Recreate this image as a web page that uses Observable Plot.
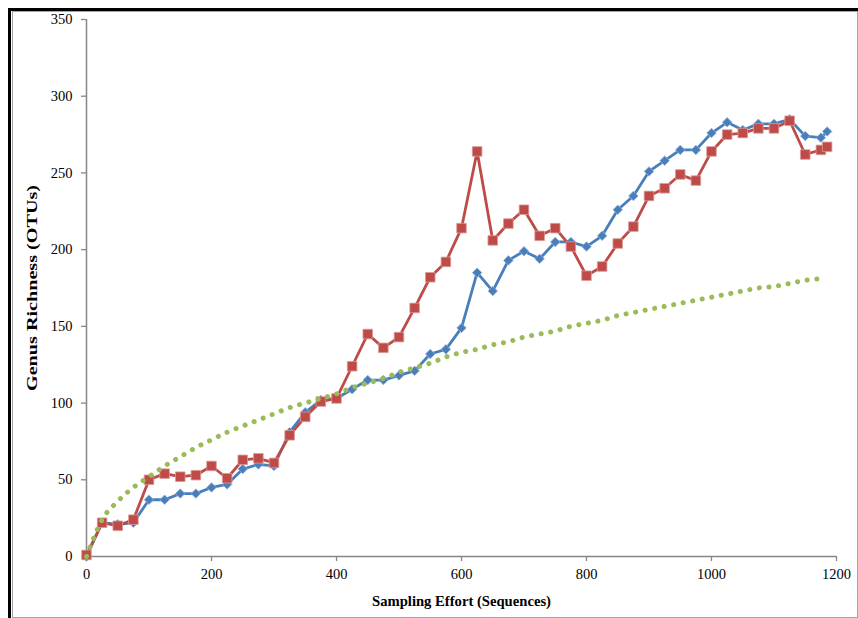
<!DOCTYPE html>
<html>
<head>
<meta charset="utf-8">
<script src="https://cdn.jsdelivr.net/npm/d3@7"></script>
<script src="https://cdn.jsdelivr.net/npm/@observablehq/plot@0.6"></script>
<style>
  html, body { margin: 0; padding: 0; background: #fff; overflow: hidden; }
  #wrap { position: relative; width: 858px; height: 618px; }
  #wrap svg { display: block; }
  .b { position: absolute; pointer-events: none; }
</style>
</head>
<body>
<div id="wrap">
  <div class="b" style="left:8px;top:8px;width:850px;height:3px;background:#000"></div>
  <div class="b" style="left:8px;top:8px;width:3px;height:610px;background:#000"></div>
  <div class="b" style="left:12px;top:11px;border:1px solid #a6a6a6;box-sizing:border-box;width:846px;height:607px"></div>
</div>
<script>
// Sampling effort (sequences) for the two observed series
const effort = [0,25,50,75,100,125,150,175,200,225,250,275,300,325,350,375,400,425,450,475,500,525,550,575,600,625,650,675,700,725,750,775,800,825,850,875,900,925,950,975,1000,1025,1050,1075,1100,1125,1150,1175,1185];
// Blue series (diamonds)
const blueValues = [0,22,21,22,37,37,41,41,45,47,57,60,59,81,94,102,103,109,115,115,118,121,132,135,149,185,173,193,199,194,205,205,202,209,226,235,251,258,265,265,276,283,278,282,282,285,274,273,277];
// Red series (squares)
const redValues = [1,22,20,24,50,54,52,53,59,51,63,64,61,79,91,101,103,124,145,136,143,162,182,192,214,264,206,217,226,209,214,202,183,189,204,215,235,240,249,245,264,275,276,279,279,284,262,265,267];
// Green dotted trend curve
const trendEffort = [0,25,50,75,100,125,150,175,200,225,250,275,300,325,350,375,400,425,450,475,500,525,550,575,600,625,650,675,700,725,750,775,800,825,850,875,900,925,950,975,1000,1025,1050,1075,1100,1125,1150,1175];
const trendValues = [0,24,36,45,52,59,65,71,76,81,85,89,93,97,100,103,106,110,113,116,120,123,126,130,133,135,138,140,143,145,147,150,152,154,157,159,161,163,165,167,169,171,173,175,176,178,180,181];
const xTicks = [0,200,400,600,800,1000,1200];
const yTicks = [0,50,100,150,200,250,300,350];
const xTitle = "Sampling Effort (Sequences)";
const yTitle = "Genus Richness (OTUs)";

const blue = effort.map((x, i) => ({x, y: blueValues[i]}));
const red = effort.map((x, i) => ({x, y: redValues[i]}));
const trend = trendEffort.map((x, i) => ({x, y: trendValues[i]}));

const diamond = {
  draw(ctx, size) {
    const h = Math.sqrt(size / 2);
    ctx.moveTo(0, -h); ctx.lineTo(h, 0); ctx.lineTo(0, h); ctx.lineTo(-h, 0); ctx.closePath();
  }
};

const BLUE = "#4a7ebb", RED = "#be4b48", GREEN = "#9bbb59", AXIS = "#868686";
const font = "'Liberation Serif', 'Times New Roman', serif";

const chart = Plot.plot({
  width: 858,
  height: 618,
  marginLeft: 86,
  marginRight: 22,
  marginTop: 19,
  marginBottom: 62,
  style: {fontFamily: font, fontSize: "14.5px", color: "#000", background: "transparent"},
  x: {domain: [0, 1200]},
  y: {domain: [0, 350]},
  marks: [
    Plot.axisX({ticks: xTicks, tickSize: 5, tickPadding: 7, stroke: AXIS, strokeWidth: 1.3, fontSize: 14.5, label: null, tickFormat: d => String(d)}),
    Plot.axisY({ticks: yTicks, tickSize: 5, tickPadding: 9, stroke: AXIS, strokeWidth: 1.3, fontSize: 14.5, label: null, tickFormat: d => String(d)}),
    Plot.ruleX([0], {stroke: AXIS, strokeWidth: 1.5}),
    Plot.ruleY([0], {stroke: AXIS, strokeWidth: 1.5}),
    Plot.line(blue, {x: "x", y: "y", stroke: BLUE, strokeWidth: 2.8}),
    Plot.dot(blue, {x: "x", y: "y", symbol: diamond, r: 3.8, fill: BLUE, stroke: "#8fb0da", strokeWidth: 0.8}),
    Plot.line(red, {x: "x", y: "y", stroke: RED, strokeWidth: 2.8}),
    Plot.dot(red, {x: "x", y: "y", symbol: "square", r: 5.4, fill: RED, stroke: "#dc9a98", strokeWidth: 0.8}),
    Plot.line(trend, {x: "x", y: "y", stroke: GREEN, strokeWidth: 5, strokeLinecap: "round", strokeDasharray: "0.1 9.6", curve: "monotone-x"}),
    Plot.text([xTitle], {frameAnchor: "bottom", dy: 49, textAnchor: "middle", text: d => d, fontWeight: "bold", fontSize: 14.5, fill: "#000", className: "xtitle"}),
    Plot.text([yTitle], {frameAnchor: "left", dx: -54, rotate: -90, textAnchor: "middle", text: d => d, fontWeight: "bold", fontSize: 14.5, fill: "#000", className: "ytitle"})
  ]
});
d3.select(chart).selectAll(".xtitle text").attr("textLength", 179).attr("lengthAdjust", "spacingAndGlyphs");
d3.select(chart).selectAll(".ytitle text").attr("textLength", 206).attr("lengthAdjust", "spacingAndGlyphs");
document.getElementById("wrap").prepend(chart);
</script>
</body>
</html>
